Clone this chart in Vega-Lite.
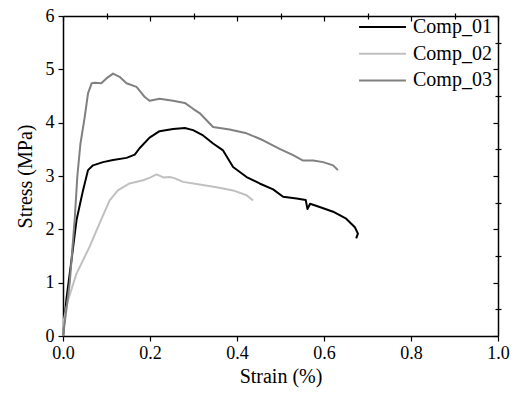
{
"$schema": "https://vega.github.io/schema/vega-lite/v6.json",
"width": 435, "height": 320,
"autosize": {"type": "none"},
"padding": {"left": 63, "top": 16, "right": 18, "bottom": 58},
"background": "white",
"config": {
  "style": {"guide-label": {"font": "Times New Roman"}, "guide-title": {"font": "Times New Roman"}},
  "view": {"stroke": null}
},
"datasets": {
  "curves": [
    {"series":"Comp_01","idx":0,"strain":0,"stress":0},
    {"series":"Comp_01","idx":1,"strain":0.008,"stress":0.7},
    {"series":"Comp_01","idx":2,"strain":0.019,"stress":1.39},
    {"series":"Comp_01","idx":3,"strain":0.031,"stress":2.17},
    {"series":"Comp_01","idx":4,"strain":0.046,"stress":2.73},
    {"series":"Comp_01","idx":5,"strain":0.0575,"stress":3.11},
    {"series":"Comp_01","idx":6,"strain":0.069,"stress":3.2},
    {"series":"Comp_01","idx":7,"strain":0.092,"stress":3.26},
    {"series":"Comp_01","idx":8,"strain":0.115,"stress":3.3},
    {"series":"Comp_01","idx":9,"strain":0.146,"stress":3.34},
    {"series":"Comp_01","idx":10,"strain":0.165,"stress":3.4},
    {"series":"Comp_01","idx":11,"strain":0.176,"stress":3.52},
    {"series":"Comp_01","idx":12,"strain":0.199,"stress":3.72},
    {"series":"Comp_01","idx":13,"strain":0.222,"stress":3.84},
    {"series":"Comp_01","idx":14,"strain":0.253,"stress":3.88},
    {"series":"Comp_01","idx":15,"strain":0.28,"stress":3.9},
    {"series":"Comp_01","idx":16,"strain":0.299,"stress":3.86},
    {"series":"Comp_01","idx":17,"strain":0.322,"stress":3.76},
    {"series":"Comp_01","idx":18,"strain":0.345,"stress":3.61},
    {"series":"Comp_01","idx":19,"strain":0.368,"stress":3.48},
    {"series":"Comp_01","idx":20,"strain":0.391,"stress":3.17},
    {"series":"Comp_01","idx":21,"strain":0.422,"stress":2.98},
    {"series":"Comp_01","idx":22,"strain":0.452,"stress":2.86},
    {"series":"Comp_01","idx":23,"strain":0.483,"stress":2.75},
    {"series":"Comp_01","idx":24,"strain":0.506,"stress":2.61},
    {"series":"Comp_01","idx":25,"strain":0.537,"stress":2.58},
    {"series":"Comp_01","idx":26,"strain":0.558,"stress":2.55},
    {"series":"Comp_01","idx":27,"strain":0.562,"stress":2.38},
    {"series":"Comp_01","idx":28,"strain":0.568,"stress":2.48},
    {"series":"Comp_01","idx":29,"strain":0.59,"stress":2.42},
    {"series":"Comp_01","idx":30,"strain":0.621,"stress":2.33},
    {"series":"Comp_01","idx":31,"strain":0.651,"stress":2.2},
    {"series":"Comp_01","idx":32,"strain":0.671,"stress":2.04},
    {"series":"Comp_01","idx":33,"strain":0.678,"stress":1.92},
    {"series":"Comp_01","idx":34,"strain":0.674,"stress":1.83},
    {"series":"Comp_02","idx":0,"strain":0,"stress":0},
    {"series":"Comp_02","idx":1,"strain":0.002,"stress":0.3},
    {"series":"Comp_02","idx":2,"strain":0.0115,"stress":0.67},
    {"series":"Comp_02","idx":3,"strain":0.031,"stress":1.17},
    {"series":"Comp_02","idx":4,"strain":0.061,"stress":1.67},
    {"series":"Comp_02","idx":5,"strain":0.084,"stress":2.11},
    {"series":"Comp_02","idx":6,"strain":0.107,"stress":2.54},
    {"series":"Comp_02","idx":7,"strain":0.126,"stress":2.73},
    {"series":"Comp_02","idx":8,"strain":0.153,"stress":2.86},
    {"series":"Comp_02","idx":9,"strain":0.184,"stress":2.92},
    {"series":"Comp_02","idx":10,"strain":0.2,"stress":2.97},
    {"series":"Comp_02","idx":11,"strain":0.215,"stress":3.03},
    {"series":"Comp_02","idx":12,"strain":0.232,"stress":2.97},
    {"series":"Comp_02","idx":13,"strain":0.245,"stress":2.98},
    {"series":"Comp_02","idx":14,"strain":0.256,"stress":2.96},
    {"series":"Comp_02","idx":15,"strain":0.276,"stress":2.89},
    {"series":"Comp_02","idx":16,"strain":0.314,"stress":2.84},
    {"series":"Comp_02","idx":17,"strain":0.353,"stress":2.79},
    {"series":"Comp_02","idx":18,"strain":0.391,"stress":2.73},
    {"series":"Comp_02","idx":19,"strain":0.422,"stress":2.64},
    {"series":"Comp_02","idx":20,"strain":0.437,"stress":2.54},
    {"series":"Comp_03","idx":0,"strain":0,"stress":0},
    {"series":"Comp_03","idx":1,"strain":0.0154,"stress":0.99},
    {"series":"Comp_03","idx":2,"strain":0.027,"stress":2.2},
    {"series":"Comp_03","idx":3,"strain":0.033,"stress":3.0},
    {"series":"Comp_03","idx":4,"strain":0.04,"stress":3.6},
    {"series":"Comp_03","idx":5,"strain":0.05,"stress":4.11},
    {"series":"Comp_03","idx":6,"strain":0.0575,"stress":4.55},
    {"series":"Comp_03","idx":7,"strain":0.066,"stress":4.74},
    {"series":"Comp_03","idx":8,"strain":0.073,"stress":4.75},
    {"series":"Comp_03","idx":9,"strain":0.088,"stress":4.74},
    {"series":"Comp_03","idx":10,"strain":0.0998,"stress":4.83},
    {"series":"Comp_03","idx":11,"strain":0.115,"stress":4.92},
    {"series":"Comp_03","idx":12,"strain":0.13,"stress":4.86},
    {"series":"Comp_03","idx":13,"strain":0.146,"stress":4.74},
    {"series":"Comp_03","idx":14,"strain":0.169,"stress":4.67},
    {"series":"Comp_03","idx":15,"strain":0.188,"stress":4.48},
    {"series":"Comp_03","idx":16,"strain":0.199,"stress":4.41},
    {"series":"Comp_03","idx":17,"strain":0.222,"stress":4.45},
    {"series":"Comp_03","idx":18,"strain":0.253,"stress":4.41},
    {"series":"Comp_03","idx":19,"strain":0.28,"stress":4.37},
    {"series":"Comp_03","idx":20,"strain":0.299,"stress":4.26},
    {"series":"Comp_03","idx":21,"strain":0.314,"stress":4.18},
    {"series":"Comp_03","idx":22,"strain":0.345,"stress":3.92},
    {"series":"Comp_03","idx":23,"strain":0.383,"stress":3.87},
    {"series":"Comp_03","idx":24,"strain":0.422,"stress":3.8},
    {"series":"Comp_03","idx":25,"strain":0.46,"stress":3.67},
    {"series":"Comp_03","idx":26,"strain":0.498,"stress":3.51},
    {"series":"Comp_03","idx":27,"strain":0.529,"stress":3.39},
    {"series":"Comp_03","idx":28,"strain":0.552,"stress":3.29},
    {"series":"Comp_03","idx":29,"strain":0.575,"stress":3.29},
    {"series":"Comp_03","idx":30,"strain":0.598,"stress":3.26},
    {"series":"Comp_03","idx":31,"strain":0.621,"stress":3.2},
    {"series":"Comp_03","idx":32,"strain":0.632,"stress":3.11}
  ]
},
"data": {"name": "curves"},
"layer": [
  {
    "mark": {"type": "line", "strokeWidth": 2, "strokeJoin": "round"},
    "encoding": {
      "x": {"field": "strain", "type": "quantitative", "scale": {"domain": [0, 1], "nice": false, "zero": false},
        "axis": {"title": "Strain (%)", "values": [0,0.2,0.4,0.6,0.8,1.0], "format": ".1f", "tickSize": 5,
          "labelFont": "Times New Roman", "titleFont": "Times New Roman", "labelFontSize": 18, "titleFontSize": 20, "titleFontWeight": "normal",
          "domainColor": "black", "domainWidth": 1.5, "tickColor": "black", "tickWidth": 1.2, "grid": false,
          "labelPadding": 3, "titlePadding": 4, "labelFlush": false,
          "encode": {"labels": {"update": {"font": {"value": "Times New Roman"}}}, "title": {"update": {"font": {"value": "Times New Roman"}, "fontWeight": {"value": "normal"}}}}}},
      "y": {"field": "stress", "type": "quantitative", "scale": {"domain": [0, 6], "nice": false},
        "axis": {"title": "Stress (MPa)", "values": [0,1,2,3,4,5,6], "tickSize": 5,
          "labelFont": "Times New Roman", "titleFont": "Times New Roman", "labelFontSize": 18, "titleFontSize": 20, "titleFontWeight": "normal",
          "domainColor": "black", "domainWidth": 1.5, "tickColor": "black", "tickWidth": 1.2, "grid": false,
          "labelPadding": 4, "titlePadding": 10, "labelFlush": false,
          "encode": {"labels": {"update": {"font": {"value": "Times New Roman"}}}, "title": {"update": {"font": {"value": "Times New Roman"}, "fontWeight": {"value": "normal"}}}}}},
      "color": {"field": "series", "type": "nominal",
        "scale": {"domain": ["Comp_01", "Comp_02", "Comp_03"], "range": ["#000000", "#c0c0c0", "#808080"]},
        "legend": {"title": null, "orient": "none", "legendX": 295, "legendY": 1, "padding": 0,
          "symbolType": "stroke", "symbolSize": 2200, "symbolStrokeWidth": 2, "clipHeight": 20, "rowPadding": 6.7,
          "labelFontSize": 20, "labelFont": "Liberation Serif", "labelColor": "black", "labelOffset": 6, "labelLimit": 200}},
      "order": {"field": "idx", "type": "quantitative"}
    }
  },
  {
    "mark": {"type": "line", "opacity": 0},
    "encoding": {
      "x": {"field": "strain", "type": "quantitative",
        "axis": {"title": null, "values": [0.1,0.3,0.5,0.7,0.9], "labels": false, "domain": false, "tickSize": 3,
          "tickColor": "black", "tickWidth": 1.2, "grid": false}},
      "y": {"field": "stress", "type": "quantitative",
        "axis": {"title": null, "values": [0.5,1.5,2.5,3.5,4.5,5.5], "labels": false, "domain": false, "tickSize": 3,
          "tickColor": "black", "tickWidth": 1.2, "grid": false}},
      "detail": {"field": "series", "type": "nominal"},
      "order": {"field": "idx", "type": "quantitative"}
    }
  },
  {
    "mark": {"type": "line", "opacity": 0},
    "encoding": {
      "x": {"field": "strain", "type": "quantitative",
        "axis": {"title": null, "orient": "top", "values": [0,0.2,0.4,0.6,0.8,1.0], "labels": false, "tickSize": -5,
          "domainColor": "black", "domainWidth": 1.5, "tickColor": "black", "tickWidth": 1.2, "grid": false}},
      "y": {"field": "stress", "type": "quantitative",
        "axis": {"title": null, "orient": "right", "values": [0,1,2,3,4,5,6], "labels": false, "tickSize": -5,
          "domainColor": "black", "domainWidth": 1.5, "tickColor": "black", "tickWidth": 1.2, "grid": false}},
      "detail": {"field": "series", "type": "nominal"},
      "order": {"field": "idx", "type": "quantitative"}
    }
  },
  {
    "mark": {"type": "line", "opacity": 0},
    "encoding": {
      "x": {"field": "strain", "type": "quantitative",
        "axis": {"title": null, "orient": "top", "values": [0.1,0.3,0.5,0.7,0.9], "labels": false, "domain": false, "tickSize": -3,
          "tickColor": "black", "tickWidth": 1.2, "grid": false}},
      "y": {"field": "stress", "type": "quantitative",
        "axis": {"title": null, "orient": "right", "values": [0.5,1.5,2.5,3.5,4.5,5.5], "labels": false, "domain": false, "tickSize": -3,
          "tickColor": "black", "tickWidth": 1.2, "grid": false}},
      "detail": {"field": "series", "type": "nominal"},
      "order": {"field": "idx", "type": "quantitative"}
    }
  }
],
"resolve": {"axis": {"x": "independent", "y": "independent"}}
}
